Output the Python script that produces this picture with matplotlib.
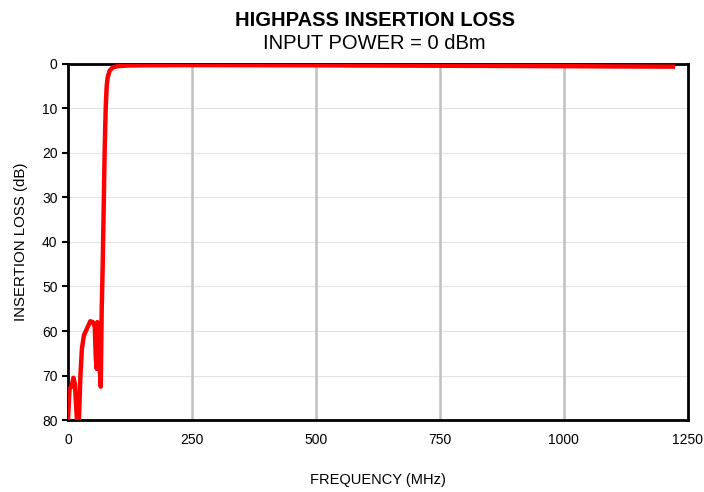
import matplotlib.pyplot as plt

# %% Data
freq_mhz = [0, 3, 7, 11, 14, 18, 22, 25, 28, 32, 38, 45, 50, 54, 56, 58, 59, 61, 63, 66,
            68, 70, 72, 74, 76, 78, 80, 84, 90, 100, 120, 150, 250, 400, 500, 600, 700,
            800, 900, 1000, 1100, 1220]
loss_db = [80, 73, 72.5, 70.5, 72, 80, 80, 70, 64, 61, 59.5, 57.8, 58, 59, 66, 68.5, 58, 59,
           66, 72.5, 55, 45, 32, 19, 10, 5, 3, 1.5, 0.8, 0.5, 0.35, 0.3, 0.25, 0.28, 0.3,
           0.35, 0.38, 0.42, 0.46, 0.5, 0.55, 0.6]
x_ticks = [0, 250, 500, 750, 1000, 1250]
y_ticks = [0, 10, 20, 30, 40, 50, 60, 70, 80]

# %% Plot
plt.rcParams["font.family"] = ["Liberation Sans", "DejaVu Sans"]
fig = plt.figure(figsize=(7.04, 4.92), dpi=100)
ax = fig.add_axes([0.0966, 0.1463, 0.8804, 0.7237])

for y in y_ticks[1:-1]:
    ax.axhline(y, color="#e3e3e3", lw=0.8, zorder=1)
for x in x_ticks[1:-1]:
    ax.axvline(x, color="#c0c0c0", lw=1.8, zorder=1)

ax.plot(freq_mhz, loss_db, color="#ff0000", lw=3.2, solid_joinstyle="round", zorder=3)

ax.set_xlim(0, 1250)
ax.set_ylim(80, 0)
ax.set_xticks(x_ticks)
ax.set_yticks(y_ticks)
ax.tick_params(axis="x", length=0, pad=9, labelsize=10)
ax.tick_params(axis="y", length=4, width=1.5, labelsize=10)
for s in ax.spines.values():
    s.set_linewidth(2)

ax.set_xlabel("FREQUENCY (MHz)", fontsize=10.5, labelpad=19)
ax.set_ylabel("INSERTION LOSS (dB)", fontsize=10.8, labelpad=10)
fig.text(0.532, 0.959, "HIGHPASS INSERTION LOSS", ha="center", va="center",
         fontsize=14.5, fontweight="bold")
fig.text(0.532, 0.912, "INPUT POWER = 0 dBm", ha="center", va="center", fontsize=14.5)

fig.savefig("out.png", dpi=100)
